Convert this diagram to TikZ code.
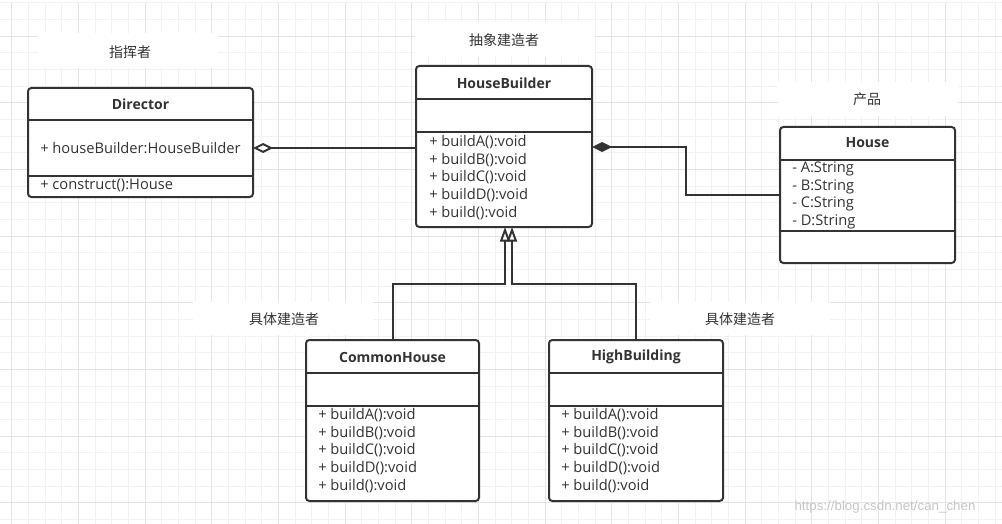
\documentclass[tikz,border=0pt]{standalone}
\usepackage{fontspec}
\setmainfont{Open Sans}
\newfontfamily\cjk{Noto Sans CJK SC}
\newfontfamily\wmfont{Liberation Sans}
\usetikzlibrary{arrows.meta}
\definecolor{ink}{HTML}{333333}
\definecolor{gridlight}{HTML}{F2F2F2}
\definecolor{griddark}{HTML}{E4E4E4}

\begin{document}
\begin{tikzpicture}[x=0.75pt, y=-0.75pt,
    classbox/.style 2 args={draw=ink, line width=1.5pt, rounded corners=2.5pt, fill=white,
      minimum width=#1*0.75pt, minimum height=#2*0.75pt, inner sep=0pt, outer sep=0pt},
    classname/.style={font=\fontsize{10.5}{12}\selectfont\bfseries, text=ink},
    member/.style={font=\fontsize{11}{12}\selectfont, text=ink, anchor=west, inner sep=0pt},
    sepline/.style={draw=ink, line width=1.5pt},
    note/.style={font=\cjk\fontsize{10.5}{12}\selectfont, text=ink},
    link/.style={draw=ink, line width=1.5pt},
    aggr/.style={link, -{Diamond[open, length=15pt, width=7.5pt]}},
    comp/.style={link, -{Diamond[length=15pt, width=7.5pt]}},
    inherit/.style={link, -{Triangle[open, length=11pt, width=7.5pt]}},
    minorline/.style={draw=gridlight, line width=0.75pt},
    majorline/.style={draw=griddark, line width=0.75pt}]
  \useasboundingbox (0,0) rectangle (1002,524);

  % background grid
  \foreach \gx in {0,...,59}
    \draw[minorline] ({11.7+16.67*\gx},3) -- ({11.7+16.67*\gx},524);
  \foreach \gy in {0,...,31}
    \draw[minorline] (0,{2.7+16.67*\gy}) -- (1002,{2.7+16.67*\gy});
  \foreach \gx in {0,4,...,56}
    \draw[majorline] ({11.7+16.67*\gx},3) -- ({11.7+16.67*\gx},524);
  \foreach \gy in {2,6,...,30}
    \draw[majorline] (0,{2.7+16.67*\gy}) -- (1002,{2.7+16.67*\gy});

  % label backgrounds
  \fill[white] (38,33) rectangle (218,68);
  \fill[white] (415,22) rectangle (595,57);
  \fill[white] (778,82) rectangle (958,116);
  \fill[white] (193,302) rectangle (373,335);
  \fill[white] (650,302) rectangle (830,335);

  % labels
  \node[note] (directornote) at (130,52) {指挥者};
  \node[note] (buildernote) at (504,40) {抽象建造者};
  \node[note] (housenote) at (867,99) {产品};
  \node[note] (commonnote) at (284,319) {具体建造者};
  \node[note] (highnote) at (740,319) {具体建造者};

  % Director
  \node[classbox={225}{109}] (director) at (140.5,142.5) {};
  \draw[sepline] (director.west |- 0,120) -- (director.east |- 0,120);
  \draw[sepline] (director.west |- 0,176) -- (director.east |- 0,176);
  \node[classname] (directortitle) at (140.5,104) {Director};
  \node[member] (directorattr) at (40,148) {+ houseBuilder:HouseBuilder};
  \node[member] (directorop) at (40,185) {+ construct():House};

  % HouseBuilder
  \node[classbox={176}{161}] (housebuilder) at (504,146.5) {};
  \draw[sepline] (housebuilder.west |- 0,99) -- (housebuilder.east |- 0,99);
  \draw[sepline] (housebuilder.west |- 0,132) -- (housebuilder.east |- 0,132);
  \node[classname] (buildertitle) at (504,83) {HouseBuilder};
  \node[member] (hba) at (429,142) {+ buildA():void};
  \node[member] (hbb) at (429,160) {+ buildB():void};
  \node[member] (hbc) at (429,177) {+ buildC():void};
  \node[member] (hbd) at (429,195) {+ buildD():void};
  \node[member] (hbe) at (429,213) {+ build():void};

  % House
  \node[classbox={175}{136}] (house) at (867.5,195) {};
  \draw[sepline] (house.west |- 0,160) -- (house.east |- 0,160);
  \draw[sepline] (house.west |- 0,231) -- (house.east |- 0,231);
  \node[classname] (housetitle) at (867.5,143) {House};
  \node[member] (housea) at (792,169) {- A:String};
  \node[member] (houseb) at (792,187) {- B:String};
  \node[member] (housec) at (792,204) {- C:String};
  \node[member] (housed) at (792,222) {- D:String};

  % CommonHouse
  \node[classbox={173}{161}] (commonhouse) at (392.5,420.5) {};
  \draw[sepline] (commonhouse.west |- 0,373) -- (commonhouse.east |- 0,373);
  \draw[sepline] (commonhouse.west |- 0,406) -- (commonhouse.east |- 0,406);
  \node[classname] (commontitle) at (392.5,357) {CommonHouse};
  \node[member] (cha) at (318,415) {+ buildA():void};
  \node[member] (chb) at (318,433) {+ buildB():void};
  \node[member] (chc) at (318,450) {+ buildC():void};
  \node[member] (chd) at (318,468) {+ buildD():void};
  \node[member] (che) at (318,486) {+ build():void};

  % HighBuilding
  \node[classbox={174}{161}] (highbuilding) at (636,420.5) {};
  \draw[sepline] (highbuilding.west |- 0,373) -- (highbuilding.east |- 0,373);
  \draw[sepline] (highbuilding.west |- 0,406) -- (highbuilding.east |- 0,406);
  \node[classname] (hightitle) at (636,357) {HighBuilding};
  \node[member] (bda) at (561,415) {+ buildA():void};
  \node[member] (bdb) at (561,433) {+ buildB():void};
  \node[member] (bdc) at (561,450) {+ buildC():void};
  \node[member] (bdd) at (561,468) {+ buildD():void};
  \node[member] (bde) at (561,486) {+ build():void};

  % relations
  \draw[aggr] (housebuilder.west |- 0,148) -- (director.east |- 0,148);
  \draw[comp] (house.west) -- (686,195) -- (686,147) -- (housebuilder.east |- 0,147);
  \draw[inherit] (commonhouse.north) |- (505,284) -- (housebuilder.south -| 505,0);
  \draw[inherit] (highbuilding.north) |- (512,284) -- (housebuilder.south -| 512,0);

  \node[font=\wmfont\fontsize{10}{12}\selectfont, text=black!22] (watermark) at (885,507) {https://blog.csdn.net/can\_chen};
\end{tikzpicture}
\end{document}
